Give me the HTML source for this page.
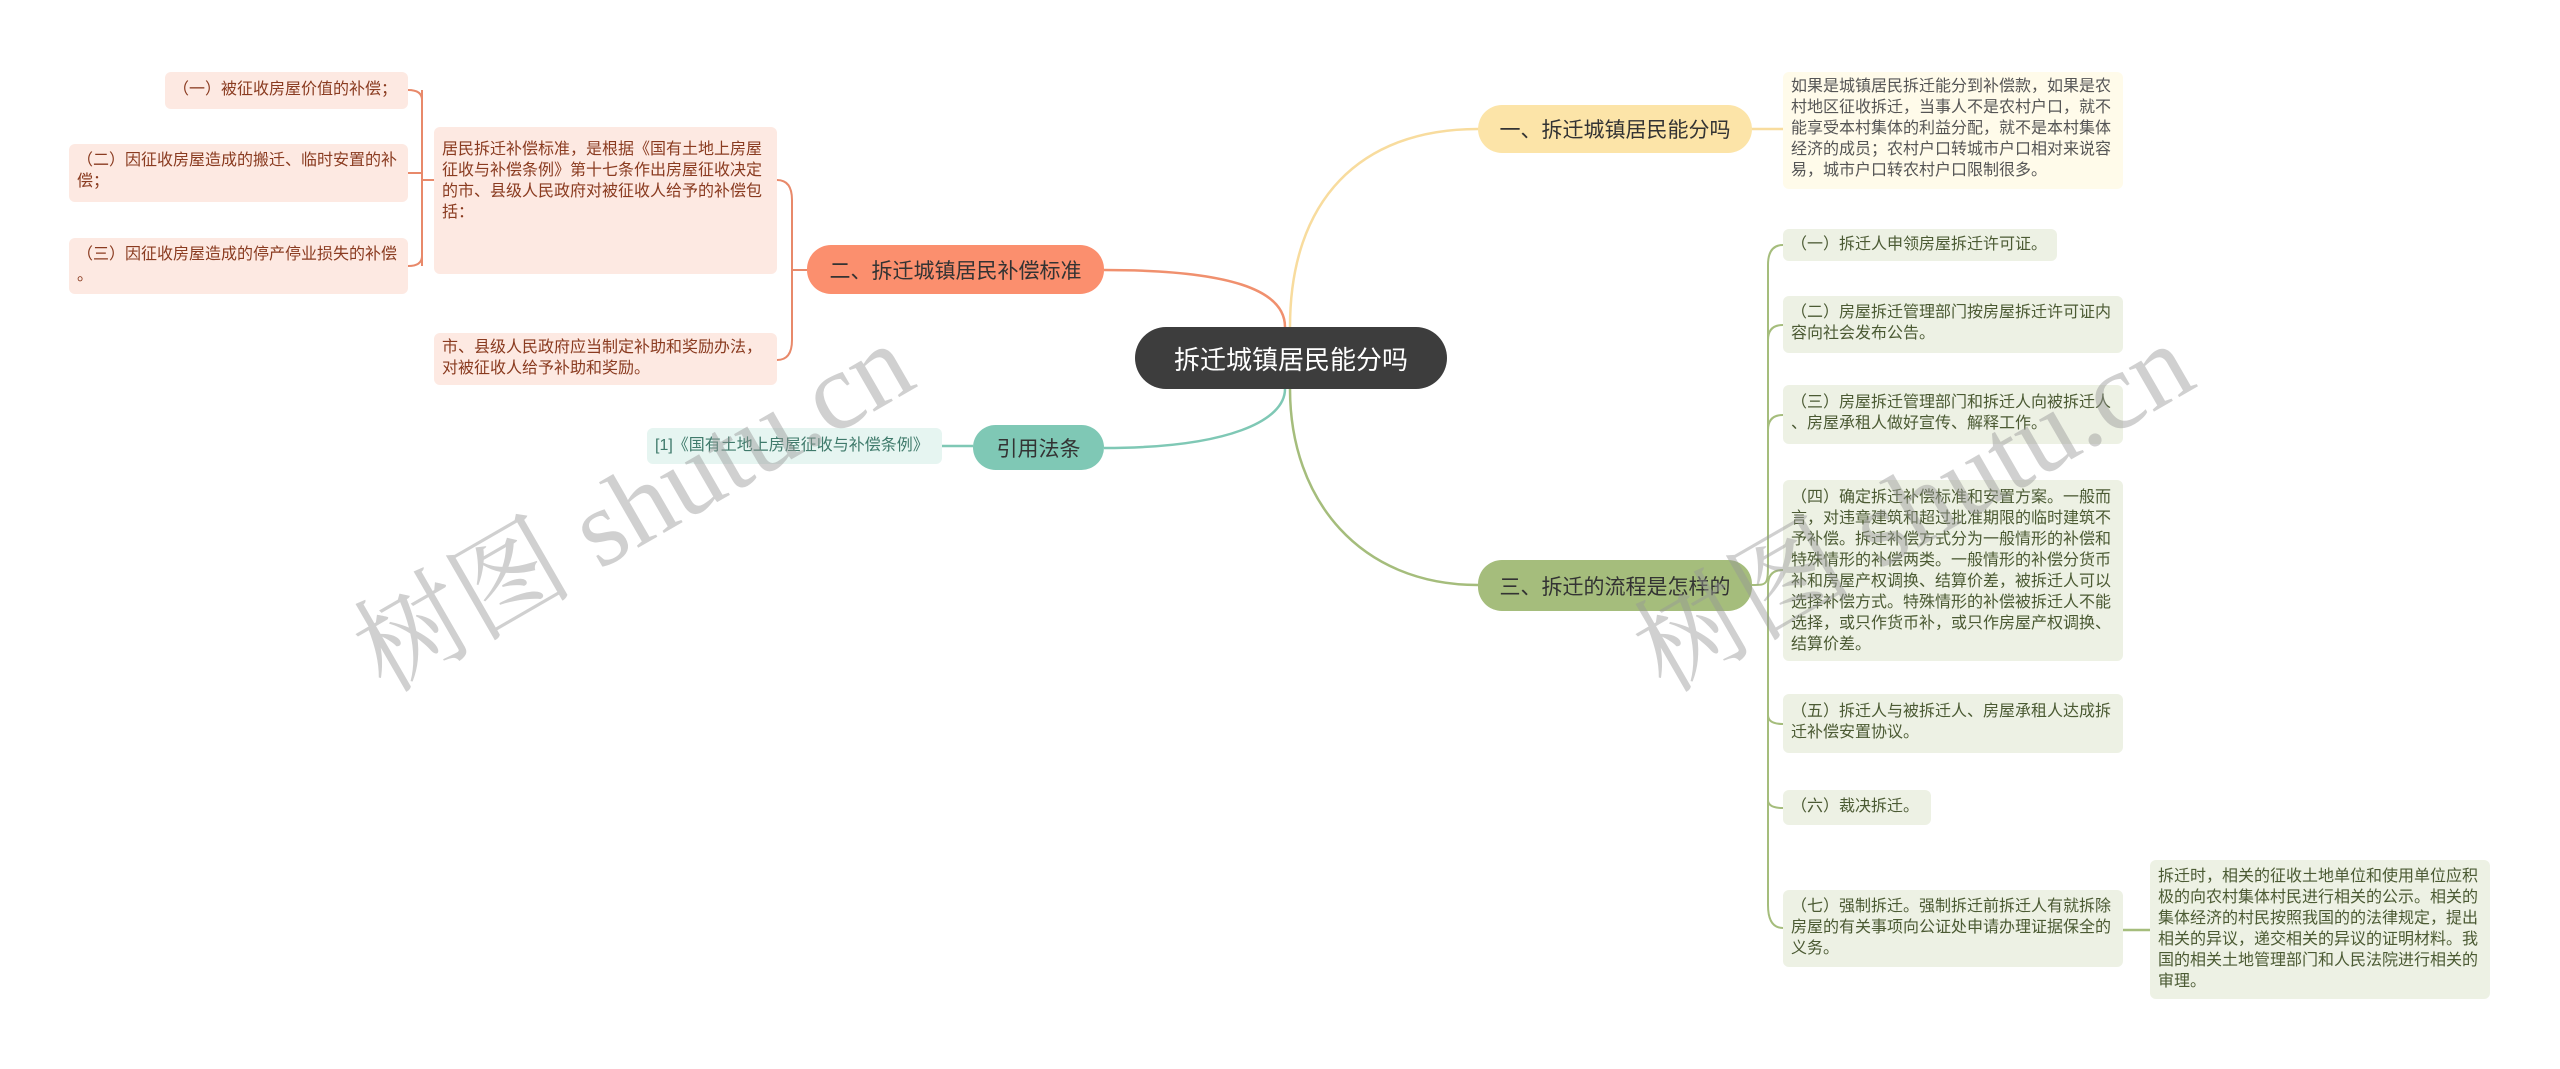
<!DOCTYPE html>
<html><head><meta charset="utf-8"><style>
body{margin:0;width:2560px;height:1069px;background:#fff;position:relative;overflow:hidden;font-family:"Liberation Sans","Noto Sans CJK SC",sans-serif}
.n{position:absolute;box-sizing:border-box;white-space:nowrap}
.b{border-radius:24px;display:flex;align-items:center;justify-content:center;font-size:21px;color:#333}
.t{border-radius:6px;font-size:16px;line-height:26px;padding:6px 8px;color:#444}
.o{background:#fde9e2;color:#8a3b20}
.y{background:#fffbea;color:#555}
.g{background:#edf1e4;color:#4b5a33}
.wm{position:absolute;font-family:"Liberation Serif","Noto Serif CJK SC",serif;font-size:110px;color:rgba(150,150,150,.45);transform:rotate(-30deg);white-space:nowrap}
</style></head><body>
<svg width="2560" height="1069" style="position:absolute;left:0;top:0">
<g fill="none" stroke-width="2.5">
<path d="M1290 327 C1290 200 1360 129 1478 129" stroke="#f8dc9e"/>
<path d="M1290 389 C1290 500 1360 585 1478 585" stroke="#a5bd7c"/>
<path d="M1285 327 C1285 290 1230 270 1104 270" stroke="#f0906e"/>
<path d="M1285 389 C1285 420 1230 448 1104 448" stroke="#7fc8b5"/>
<path d="M1752 129 L1783 129" stroke="#f8dc9e"/>
<path d="M942 446 L973 446" stroke="#7fc8b5"/>
<path d="M2123 930 L2150 930" stroke="#a5bd7c"/>
</g>
<g fill="none" stroke="#a5bd7c" stroke-width="2">
<path d="M1752 585 C1768 585 1768 585 1768 560 L1768 265 Q1768 245 1783 245"/>
<path d="M1768 340 Q1768 325 1783 325"/>
<path d="M1768 430 Q1768 415 1783 415"/>
<path d="M1768 585 Q1768 570 1783 570"/>
<path d="M1768 585 L1768 905 Q1768 928 1783 928"/>
<path d="M1768 715 Q1768 724 1783 724"/>
<path d="M1768 800 Q1768 808 1783 808"/>
</g>
<g fill="none" stroke="#e8896a" stroke-width="2">
<path d="M807 270 L792 270 Q792 270 792 250 L792 200 Q792 180 777 180"/>
<path d="M792 270 L792 340 Q792 360 777 360"/>
<path d="M434 180 L422 180"/>
<path d="M422 90 L422 266 M408 90 Q422 90 422 100 M408 266 Q422 266 422 256 M408 173 L422 173"/>
</g>
</svg>

<div class="n b" style="left:1135px;top:327px;width:312px;height:62px;background:#3d3d3d;color:#fff;font-size:26px;border-radius:31px">拆迁城镇居民能分吗</div>
<div class="n b" style="left:1478px;top:105px;width:274px;height:48px;background:#fce4a8">一、拆迁城镇居民能分吗</div>
<div class="n b" style="left:807px;top:245px;width:297px;height:49px;background:#fb8f6e">二、拆迁城镇居民补偿标准</div>
<div class="n b" style="left:973px;top:425px;width:131px;height:45px;background:#7fc8b5">引用法条</div>
<div class="n b" style="left:1478px;top:560px;width:274px;height:51px;background:#a5bd7c">三、拆迁的流程是怎样的</div>

<div class="n t y" style="left:1783px;top:72px;width:340px;height:117px;padding-top:4px;line-height:21px">如果是城镇居民拆迁能分到补偿款，如果是农<br>村地区征收拆迁，当事人不是农村户口，就不<br>能享受本村集体的利益分配，就不是本村集体<br>经济的成员；农村户口转城市户口相对来说容<br>易，城市户口转农村户口限制很多。</div>

<div class="n t o" style="left:434px;top:127px;width:343px;height:147px;padding-top:12px;line-height:21px">居民拆迁补偿标准，是根据《国有土地上房屋<br>征收与补偿条例》第十七条作出房屋征收决定<br>的市、县级人民政府对被征收人给予的补偿包<br>括：</div>
<div class="n t o" style="left:434px;top:333px;width:343px;height:52px;padding-top:4px;line-height:21px">市、县级人民政府应当制定补助和奖励办法，<br>对被征收人给予补助和奖励。</div>
<div class="n t o" style="left:165px;top:72px;width:243px;height:37px;padding-top:5px;line-height:26px">（一）被征收房屋价值的补偿；</div>
<div class="n t o" style="left:69px;top:144px;width:339px;height:58px;padding-top:6px;line-height:21px">（二）因征收房屋造成的搬迁、临时安置的补<br>偿；</div>
<div class="n t o" style="left:69px;top:238px;width:339px;height:56px;padding-top:6px;line-height:21px">（三）因征收房屋造成的停产停业损失的补偿<br>。</div>

<div class="n t" style="left:647px;top:428px;width:295px;height:36px;background:#e6f5f1;color:#3f7a6b;padding-top:5px">[1]《国有土地上房屋征收与补偿条例》</div>

<div class="n t g" style="left:1783px;top:229px;width:274px;height:32px;padding-top:3px">（一）拆迁人申领房屋拆迁许可证。</div>
<div class="n t g" style="left:1783px;top:296px;width:340px;height:57px;padding-top:6px;line-height:21px">（二）房屋拆迁管理部门按房屋拆迁许可证内<br>容向社会发布公告。</div>
<div class="n t g" style="left:1783px;top:385px;width:340px;height:59px;padding-top:7px;line-height:21px">（三）房屋拆迁管理部门和拆迁人向被拆迁人<br>、房屋承租人做好宣传、解释工作。</div>
<div class="n t g" style="left:1783px;top:480px;width:340px;height:181px;padding-top:7px;line-height:21px">（四）确定拆迁补偿标准和安置方案。一般而<br>言，对违章建筑和超过批准期限的临时建筑不<br>予补偿。拆迁补偿方式分为一般情形的补偿和<br>特殊情形的补偿两类。一般情形的补偿分货币<br>补和房屋产权调换、结算价差，被拆迁人可以<br>选择补偿方式。特殊情形的补偿被拆迁人不能<br>选择，或只作货币补，或只作房屋产权调换、<br>结算价差。</div>
<div class="n t g" style="left:1783px;top:694px;width:340px;height:59px;padding-top:7px;line-height:21px">（五）拆迁人与被拆迁人、房屋承租人达成拆<br>迁补偿安置协议。</div>
<div class="n t g" style="left:1783px;top:790px;width:148px;height:35px;padding-top:4px">（六）裁决拆迁。</div>
<div class="n t g" style="left:1783px;top:890px;width:340px;height:77px;padding-top:6px;line-height:21px">（七）强制拆迁。强制拆迁前拆迁人有就拆除<br>房屋的有关事项向公证处申请办理证据保全的<br>义务。</div>
<div class="n t g" style="left:2150px;top:860px;width:340px;height:139px;padding-top:6px;line-height:21px">拆迁时，相关的征收土地单位和使用单位应积<br>极的向农村集体村民进行相关的公示。相关的<br>集体经济的村民按照我国的的法律规定，提出<br>相关的异议，递交相关的异议的证明材料。我<br>国的相关土地管理部门和人民法院进行相关的<br>审理。</div>

<div class="wm" style="left:320px;top:420px">树图 shutu.cn</div>
<div class="wm" style="left:1600px;top:420px">树图 shutu.cn</div>
</body></html>
